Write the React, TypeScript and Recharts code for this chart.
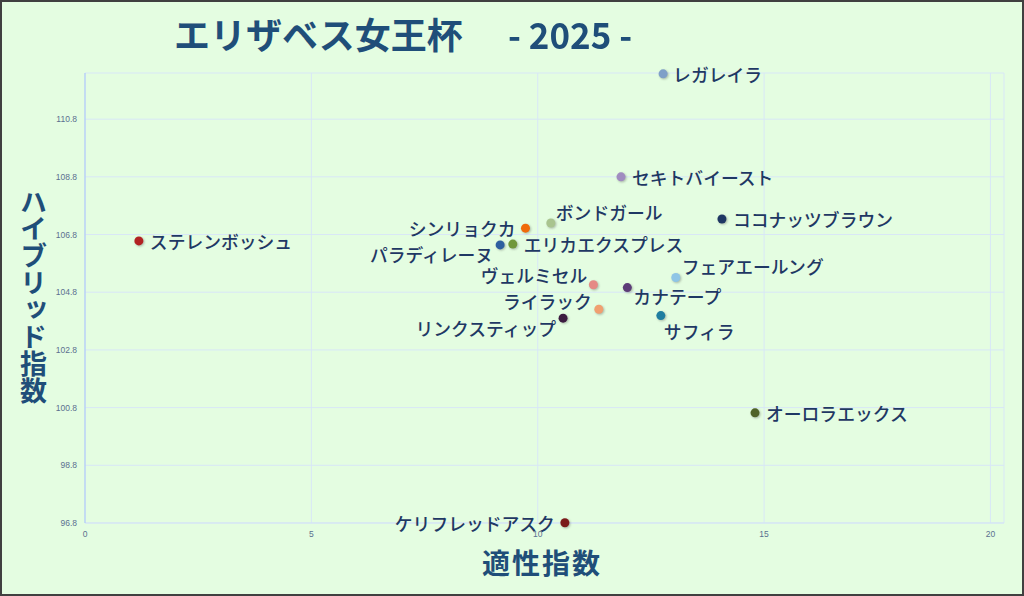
import React from 'react';
import { ScatterChart, Scatter, XAxis, YAxis, CartesianGrid, Cell } from 'recharts';

const horseNames = [
  'レガレイラ', 'セキトバイースト', 'ココナッツブラウン', 'ボンドガール', 'シンリョクカ',
  'ステレンボッシュ', 'パラディレーヌ', 'エリカエクスプレス', 'フェアエールング', 'ヴェルミセル',
  'カナテープ', 'ライラック', 'リンクスティップ', 'サフィラ', 'オーロラエックス', 'ケリフレッドアスク',
];
const aptitudeIndex = [12.77, 11.84, 14.07, 10.29, 9.73, 1.19, 9.17, 9.45, 13.05, 11.23, 11.98, 11.35, 10.56, 12.72, 14.8, 10.6];
const hybridIndex = [112.37, 108.8, 107.34, 107.2, 107.02, 106.58, 106.44, 106.47, 105.31, 105.06, 104.96, 104.21, 103.9, 103.99, 100.62, 96.81];
const pointColors = [
  '#7f9fc8', '#a08cc0', '#1f3864', '#a9c48f', '#f06a0a',
  '#b22222', '#2e5fa0', '#70963a', '#8ec5e6', '#e58a85',
  '#5c3c78', '#f0a070', '#3c1c40', '#1f7ea0', '#4f6228', '#7b1a1a',
];
const xTicks = [0, 5, 10, 15, 20];
const yTicks = [96.8, 98.8, 100.8, 102.8, 104.8, 106.8, 108.8, 110.8];
const titleMain = 'エリザベス女王杯';
const titleYear = '- 2025 -';

// label placement (style config, keyed by name)
const labelPlacement: Record<string, [string, number, number]> = {
  'レガレイラ': ['start', 10, 0],
  'セキトバイースト': ['start', 11, 0],
  'ココナッツブラウン': ['start', 11, 0],
  'ボンドガール': ['start', 5, -11],
  'シンリョクカ': ['end', -10, 0],
  'ステレンボッシュ': ['start', 11, 0],
  'パラディレーヌ': ['end', -7, 9],
  'エリカエクスプレス': ['start', 11, 0],
  'フェアエールング': ['start', 6, -12],
  'ヴェルミセル': ['end', -6, -10],
  'カナテープ': ['start', 6, 8],
  'ライラック': ['end', -7, -8],
  'リンクスティップ': ['end', -7, 10],
  'サフィラ': ['start', 3, 15],
  'オーロラエックス': ['start', 11, 0],
  'ケリフレッドアスク': ['end', -10, 0],
};

const data = horseNames.map((name, i) => ({ name, x: aptitudeIndex[i], y: hybridIndex[i], color: pointColors[i] }));

const FONT = '"Noto Sans CJK JP", "Noto Sans", sans-serif';

const PointShape = (props: any) => {
  const { cx, cy, payload } = props;
  const [anchor, dx, dy] = labelPlacement[payload.name] || ['start', 10, 0];
  return (
    <g>
      <circle cx={cx} cy={cy} r={4.5} fill={payload.color}
        style={{ filter: 'drop-shadow(1px 1.5px 1px rgba(60,60,60,0.35))' }} />
      <text x={cx + dx} y={cy + dy} textAnchor={anchor as any} dominantBaseline="central"
        fontSize={17.8} fontWeight={500} fill="#1f3864" fontFamily={FONT}>
        {payload.name}
      </text>
    </g>
  );
};

export default function App() {
  return (
    <div style={{ position: 'absolute', left: 0, top: 0, width: 1024, height: 596, background: '#e4fde1', overflow: 'hidden' }}>
      <div style={{ position: 'absolute', left: 174, top: 11, fontFamily: FONT, fontWeight: 700, fontSize: 36, color: '#1f4e79', lineHeight: '44px', whiteSpace: 'pre' }}>
        {titleMain}
      </div>
      <div style={{ position: 'absolute', left: 508, top: 11, fontFamily: FONT, fontWeight: 700, fontSize: 36, color: '#1f4e79', lineHeight: '44px', whiteSpace: 'pre', transform: 'scaleX(0.97)', transformOrigin: 'left center' }}>
        {titleYear}
      </div>
      <ScatterChart width={1024} height={596} margin={{ top: 73, right: 20, bottom: 0, left: 0 }}>
        <CartesianGrid stroke="#d8e7f7" strokeWidth={1} />
        <XAxis type="number" dataKey="x" domain={[0, 20.3]} ticks={xTicks} height={73}
          axisLine={{ stroke: '#d3e3f5' }} tickLine={false}
          tick={{ fontSize: 8.5, fill: '#5b7090', fontFamily: '"Liberation Sans", sans-serif' }} />
        <YAxis type="number" dataKey="y" domain={[96.8, 112.4]} ticks={yTicks} width={85}
          axisLine={{ stroke: '#a9c6f7' }} tickLine={false}
          tick={{ fontSize: 8.5, fill: '#5b7090', fontFamily: '"Liberation Sans", sans-serif' }} />
        <Scatter data={data} isAnimationActive={false} shape={PointShape}>
          {data.map((d) => <Cell key={d.name} fill={d.color} />)}
        </Scatter>
      </ScatterChart>
      <div style={{ position: 'absolute', left: 18, top: 188, writingMode: 'vertical-rl', textOrientation: 'upright', fontFamily: FONT, fontWeight: 700, fontSize: 27, color: '#1f4e79', lineHeight: '30px' } as any}>
        ハイブリッド指数
      </div>
      <div style={{ position: 'absolute', left: 442, width: 200, top: 544, textAlign: 'center', fontFamily: FONT, fontWeight: 700, fontSize: 28, letterSpacing: 2, color: '#1f4e79', lineHeight: '36px' }}>
        適性指数
      </div>
      <div style={{ position: 'absolute', left: 0, top: 0, width: 1024, height: 596, border: '2px solid #404040', boxSizing: 'border-box', pointerEvents: 'none' }} />
    </div>
  );
}
